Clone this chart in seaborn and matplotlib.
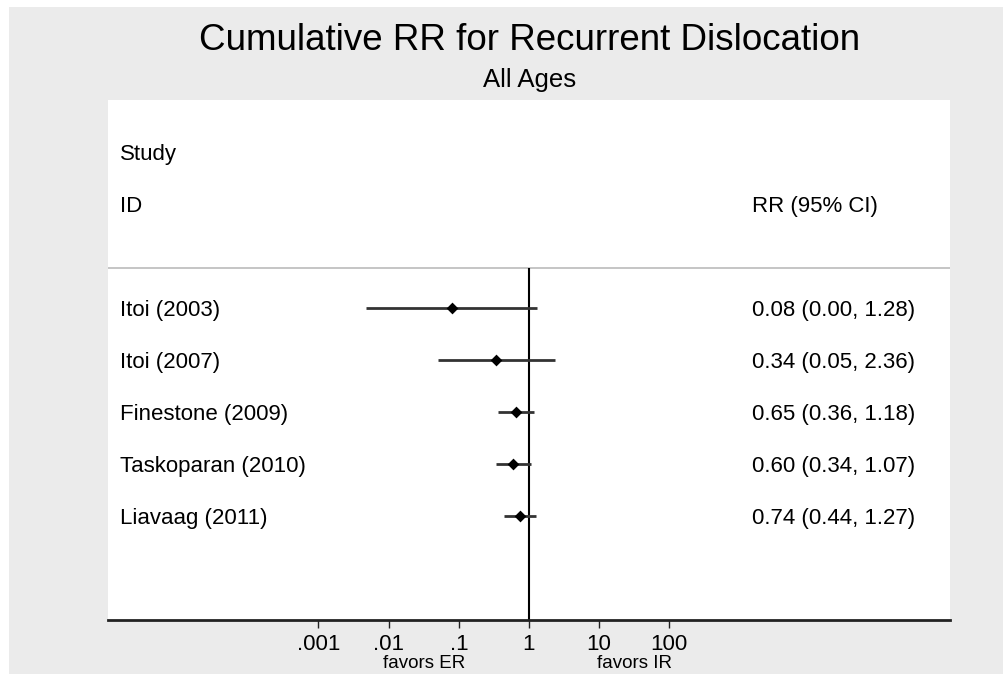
import numpy as np
import matplotlib
matplotlib.use("Agg")
import matplotlib.pyplot as plt
import matplotlib.transforms as mtransforms
from matplotlib.patches import Rectangle
import seaborn as sns
import pandas as pd

# Data
studies = ["Itoi (2003)", "Itoi (2007)", "Finestone (2009)", "Taskoparan (2010)", "Liavaag (2011)"]
rr = [0.08, 0.34, 0.65, 0.60, 0.74]
ci_low = [0.0047, 0.05, 0.36, 0.34, 0.44]
ci_high = [1.28, 2.36, 1.18, 1.07, 1.27]

tick_values = [0.001, 0.01, 0.1, 1, 10, 100]
tick_labels = [".001", ".01", ".1", "1", "10", "100"]

df = pd.DataFrame({"study": studies, "rr": rr, "lo": ci_low, "hi": ci_high})
df["row"] = np.arange(len(df))

sns.set_style("white")
plt.rcParams["font.family"] = ["Liberation Sans", "DejaVu Sans"]
plt.rcParams["text.color"] = "black"
plt.rcParams["xtick.color"] = "black"

fig = plt.figure(figsize=(10.04, 6.74), dpi=100)
fig.patch.set_facecolor("white")
# grey plot region behind the panel
fig.patches.append(Rectangle((9 / 1004, 0), 1, 1 - 7 / 674, transform=fig.transFigure,
                             facecolor="#ebebeb", edgecolor="none", zorder=-10))

ax = fig.add_axes([108 / 1004, 54 / 674, 842 / 1004, 520 / 674])
ax.set_facecolor("white")

# confidence intervals and point estimates
ax.hlines(df["row"], df["lo"], df["hi"], color="#333333", lw=2, zorder=3)
sns.scatterplot(data=df, x="rr", y="row", marker="D", s=36, color="black",
                edgecolor="black", linewidth=0, ax=ax, zorder=4, legend=False)

ax.set_xscale("log")
ax.set_xlim(1e-6, 1e6)
ax.set_ylim(6, -4)

# null line and header separator
ax.vlines(1, -0.77, 6, color="black", lw=1.5, zorder=2)
ax.axhline(-0.77, color="#bbbbbb", lw=1.2, zorder=1)

fs = 16
dy = 0.05  # text sits a touch below the bar
tr = mtransforms.blended_transform_factory(ax.transAxes, ax.transData)
ax.text(0.0143, -3 + dy, "Study", transform=tr, fontsize=fs, va="center", ha="left")
ax.text(0.0143, -2 + dy, "ID", transform=tr, fontsize=fs, va="center", ha="left")
ax.text(0.765, -2 + dy, "RR (95% CI)", transform=tr, fontsize=fs, va="center", ha="left")
for _, r in df.iterrows():
    ax.text(0.0143, r["row"] + dy, r["study"], transform=tr, fontsize=fs, va="center", ha="left")
    ax.text(0.765, r["row"] + dy, f"{r['rr']:.2f} ({r['lo']:.2f}, {r['hi']:.2f})",
            transform=tr, fontsize=fs, va="center", ha="left")

# x axis
ax.xaxis.set_major_locator(matplotlib.ticker.FixedLocator(tick_values))
ax.xaxis.set_minor_locator(matplotlib.ticker.NullLocator())
ax.set_xticklabels(tick_labels, fontsize=fs)
ax.tick_params(axis="x", direction="out", length=6, width=1, color="#222222",
               pad=4, bottom=True)
ax.set_yticks([])
ax.set_xlabel("")
ax.set_ylabel("")
for s in ["top", "left", "right"]:
    ax.spines[s].set_visible(False)
ax.spines["bottom"].set_linewidth(2)
ax.spines["bottom"].set_color("#222222")

trx = mtransforms.blended_transform_factory(ax.transData, ax.transAxes)
ax.text(10 ** -1.5, -48 / 520, "favors ER", transform=trx, fontsize=13.5, ha="center", va="baseline", clip_on=False)
ax.text(10 ** 1.5, -48 / 520, "favors IR", transform=trx, fontsize=13.5, ha="center", va="baseline", clip_on=False)

fig.text(530 / 1004, 1 - 41 / 674, "Cumulative RR for Recurrent Dislocation",
         fontsize=26.5, ha="center", va="center")
fig.text(530 / 1004, 1 - 80 / 674, "All Ages", fontsize=18.5, ha="center", va="center")

fig.savefig("out.png", dpi=100)
